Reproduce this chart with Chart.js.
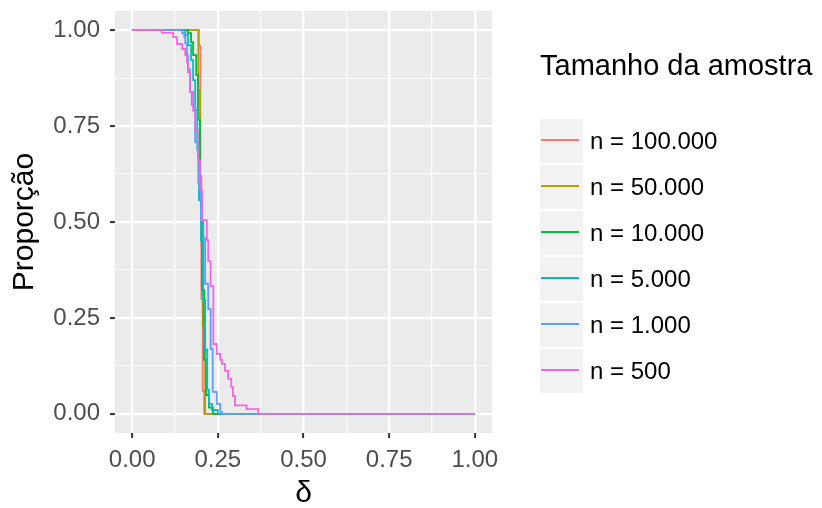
<!DOCTYPE html>
<html>
<head>
<meta charset="utf-8">
<script src="https://cdn.jsdelivr.net/npm/chart.js@4"></script>
<style>
  html, body { margin: 0; padding: 0; background: #fff; }
</style>
</head>
<body>
<canvas id="chart" width="822" height="508"></canvas>
<script>
// values (delta where the step happens, proportion after it)
const seriesLabels = ['n = 100.000', 'n = 50.000', 'n = 10.000', 'n = 5.000', 'n = 1.000', 'n = 500'];

const delta100000 = [0, 0.195, 0.199, 0.202, 0.206, 0.210, 1];
const prop100000  = [1, 0.960, 0.620, 0.300, 0.060, 0, 0];

const delta50000 = [0, 0.193, 0.198, 0.203, 0.206, 0.213, 1];
const prop50000  = [1, 0.844, 0.557, 0.438, 0.229, 0, 0];

const delta10000 = [0, 0.163, 0.172, 0.178, 0.187, 0.192, 0.198, 0.204, 0.210, 0.216, 0.224, 0.236, 1];
const prop10000  = [1, 0.992, 0.969, 0.935, 0.883, 0.766, 0.557, 0.323, 0.141, 0.049, 0.016, 0, 0];

const delta5000 = [0, 0.155, 0.163, 0.172, 0.178, 0.184, 0.190, 0.195, 0.201, 0.207, 0.213, 0.219, 0.224, 0.233, 0.250, 1];
const prop5000  = [1, 0.987, 0.961, 0.922, 0.870, 0.792, 0.688, 0.557, 0.453, 0.297, 0.167, 0.063, 0.026, 0.010, 0, 0];

const delta1000 = [0, 0.146, 0.152, 0.155, 0.160, 0.163, 0.169, 0.174, 0.184, 0.193, 0.201, 0.208, 0.213, 0.222, 0.229, 0.235, 0.247, 0.257, 0.262, 1];
const prop1000  = [1, 0.992, 0.982, 0.966, 0.935, 0.898, 0.839, 0.805, 0.708, 0.602, 0.505, 0.458, 0.339, 0.273, 0.169, 0.057, 0.026, 0.005, 0, 0];

const delta500 = [0, 0.087, 0.120, 0.131, 0.146, 0.155, 0.160, 0.163, 0.169, 0.178, 0.184, 0.192, 0.198, 0.204, 0.218, 0.222, 0.229, 0.237, 0.247, 0.257, 0.262, 0.271, 0.280, 0.289, 0.294, 0.300, 0.334, 0.368, 1];
const prop500  = [1, 0.993, 0.982, 0.964, 0.951, 0.935, 0.917, 0.890, 0.839, 0.790, 0.737, 0.661, 0.583, 0.505, 0.453, 0.398, 0.333, 0.182, 0.156, 0.141, 0.130, 0.112, 0.091, 0.070, 0.047, 0.022, 0.012, 0, 0];

const majorTicks = [0, 0.25, 0.5, 0.75, 1];
const minorTicks = [0.125, 0.375, 0.625, 0.875];
const legendTitle = 'Tamanho da amostra';

const deltas = [delta100000, delta50000, delta10000, delta5000, delta1000, delta500];
const props = [prop100000, prop50000, prop10000, prop5000, prop1000, prop500];
const colors = ['#F8766D', '#B79F00', '#00BA38', '#00BFC4', '#619CFF', '#F564E3'];

const FONT = '"Liberation Sans", Arial, sans-serif';

const datasets = seriesLabels.map((lab, i) => ({
  label: lab,
  data: deltas[i].map((d, j) => ({ x: d, y: props[i][j] })),
  borderColor: colors[i],
  backgroundColor: colors[i],
  borderWidth: 1.8,
  pointRadius: 0,
  stepped: true,
  fill: false,
  order: seriesLabels.length - i
}));

const isMajor = v => majorTicks.some(m => Math.abs(m - v) < 1e-9);

function setTicks(axis) {
  axis.ticks = majorTicks.concat(minorTicks).sort((a, b) => a - b).map(v => ({ value: v }));
}

// labels never sit on the panel edge, so drop the extra room chart.js reserves for them
function noEdgePadding(s) {
  s.paddingTop = 0;
  s.paddingBottom = 0;
  s.paddingLeft = 0;
  s.paddingRight = 0;
}

const gridOpts = {
  color: '#FFFFFF',
  lineWidth: ctx => (ctx.tick && isMajor(ctx.tick.value)) ? 2.2 : 1.1,
  tickColor: ctx => (ctx.tick && isMajor(ctx.tick.value)) ? '#333333' : 'rgba(0,0,0,0)',
  tickWidth: 2,
  tickLength: 5,
  drawTicks: true
};

const tickOpts = {
  autoSkip: false,
  maxRotation: 0,
  color: '#4D4D4D',
  font: { family: FONT, size: 24 },
  callback: v => isMajor(v) ? v.toFixed(2) : ''
};

const ggBackground = {
  id: 'ggBackground',
  beforeDraw(chart) {
    const { ctx, chartArea: a } = chart;
    ctx.save();
    ctx.fillStyle = '#FFFFFF';
    ctx.fillRect(0, 0, chart.width, chart.height);
    ctx.fillStyle = '#EBEBEB';
    ctx.fillRect(a.left, a.top, a.right - a.left, a.bottom - a.top);
    ctx.restore();
  }
};

const ggLegend = {
  id: 'ggLegend',
  afterDraw(chart) {
    const ctx = chart.ctx;
    ctx.save();
    ctx.fillStyle = '#000';
    ctx.font = '29px ' + FONT;
    ctx.textBaseline = 'alphabetic';
    ctx.fillText(legendTitle, 540, 75);
    chart.data.datasets.forEach((ds, i) => {
      const top = 119 + i * 46;
      ctx.fillStyle = '#F2F2F2';
      ctx.fillRect(540, top, 43, 44);
      ctx.strokeStyle = ds.borderColor;
      ctx.lineWidth = 2;
      ctx.beginPath();
      ctx.moveTo(541, top + 21);
      ctx.lineTo(579, top + 21);
      ctx.stroke();
      ctx.fillStyle = '#000';
      ctx.font = '24px ' + FONT;
      ctx.textBaseline = 'middle';
      ctx.fillText(ds.label, 590, top + 23);
    });
    ctx.restore();
  }
};

new Chart(document.getElementById('chart'), {
  type: 'line',
  data: { datasets: datasets },
  plugins: [ggBackground, ggLegend],
  options: {
    responsive: false,
    animation: false,
    layout: { padding: { left: 0, right: 330, top: 11, bottom: 0 } },
    plugins: { legend: { display: false }, tooltip: { enabled: false } },
    scales: {
      x: {
        type: 'linear',
        min: -0.05,
        max: 1.05,
        afterBuildTicks: setTicks,
        afterFit: s => { s.height = 75; noEdgePadding(s); },
        ticks: Object.assign({}, tickOpts, { padding: 8 }),
        grid: gridOpts,
        border: { display: false },
        title: { display: true, text: 'δ', color: '#000', font: { family: FONT, size: 30 }, padding: { top: 0, bottom: -4 } }
      },
      y: {
        type: 'linear',
        min: -0.05,
        max: 1.05,
        afterBuildTicks: setTicks,
        afterFit: s => { s.width = 115; noEdgePadding(s); },
        ticks: Object.assign({}, tickOpts, { padding: 10 }),
        grid: gridOpts,
        border: { display: false },
        title: { display: true, text: 'Proporção', color: '#000', font: { family: FONT, size: 30 }, padding: { top: 7, bottom: 0 } }
      }
    }
  }
});
</script>
</body>
</html>
